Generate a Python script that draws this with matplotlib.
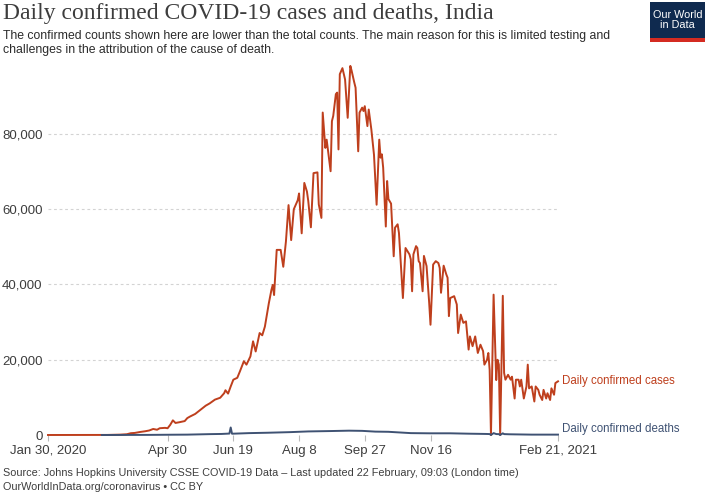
import matplotlib
matplotlib.use("Agg")
import matplotlib.pyplot as plt
import pandas as pd
from matplotlib.patches import Rectangle

plt.rcParams["font.family"] = ["Liberation Sans", "DejaVu Sans"]

# ---------------- data ----------------
case_dates = (
    ["2020-01-30", "2020-02-02", "2020-02-03", "2020-02-04", "2020-02-19", "2020-03-02", "2020-03-04",
     "2020-03-10", "2020-03-15", "2020-03-20", "2020-03-25", "2020-03-30"]
    + ["2020-04-02", "2020-04-05", "2020-04-09", "2020-04-13", "2020-04-16", "2020-04-19", "2020-04-22",
       "2020-04-24", "2020-04-28", "2020-04-30"]
    + ["2020-05-02", "2020-05-04", "2020-05-06", "2020-05-09", "2020-05-13", "2020-05-15", "2020-05-17",
       "2020-05-21", "2020-05-25", "2020-05-29"]
    + ["2020-06-01", "2020-06-05", "2020-06-09", "2020-06-12", "2020-06-13", "2020-06-15", "2020-06-17",
       "2020-06-19", "2020-06-22", "2020-06-24", "2020-06-27", "2020-06-29"]
    + ["2020-07-02", "2020-07-04", "2020-07-06", "2020-07-09", "2020-07-11", "2020-07-13", "2020-07-16",
       "2020-07-18", "2020-07-19", "2020-07-20", "2020-07-22", "2020-07-25", "2020-07-27", "2020-07-29",
       "2020-07-31"]
    + ["2020-08-02", "2020-08-04", "2020-08-07", "2020-08-08", "2020-08-10", "2020-08-12", "2020-08-14",
       "2020-08-15", "2020-08-17", "2020-08-19", "2020-08-22", "2020-08-23", "2020-08-25", "2020-08-26",
       "2020-08-28", "2020-08-29"]
    + ["2020-09-01", "2020-09-02", "2020-09-03", "2020-09-05", "2020-09-06", "2020-09-07", "2020-09-08",
       "2020-09-10", "2020-09-12", "2020-09-14", "2020-09-16", "2020-09-17", "2020-09-19", "2020-09-20",
       "2020-09-22", "2020-09-23", "2020-09-25", "2020-09-26", "2020-09-27", "2020-09-29", "2020-09-30"]
    + ["2020-10-02", "2020-10-04", "2020-10-06", "2020-10-08", "2020-10-09", "2020-10-10", "2020-10-11",
       "2020-10-13", "2020-10-14", "2020-10-15", "2020-10-17", "2020-10-19", "2020-10-20", "2020-10-22",
       "2020-10-23", "2020-10-26", "2020-10-28", "2020-10-31"]
    + ["2020-11-01", "2020-11-02", "2020-11-03", "2020-11-05", "2020-11-06", "2020-11-07", "2020-11-08",
       "2020-11-10", "2020-11-11", "2020-11-13", "2020-11-15", "2020-11-16", "2020-11-18", "2020-11-20",
       "2020-11-22", "2020-11-23", "2020-11-24", "2020-11-26", "2020-11-28", "2020-11-29", "2020-11-30"]
    + ["2020-12-01", "2020-12-04", "2020-12-06", "2020-12-07", "2020-12-09", "2020-12-11", "2020-12-13",
       "2020-12-15", "2020-12-16", "2020-12-18", "2020-12-20", "2020-12-22", "2020-12-24", "2020-12-26",
       "2020-12-27", "2020-12-29", "2020-12-30", "2020-12-31"]
    + ["2021-01-01", "2021-01-03", "2021-01-05", "2021-01-06", "2021-01-07", "2021-01-08", "2021-01-10",
       "2021-01-11", "2021-01-12", "2021-01-14", "2021-01-16", "2021-01-17", "2021-01-19", "2021-01-20",
       "2021-01-22", "2021-01-23", "2021-01-24", "2021-01-26", "2021-01-28", "2021-01-29", "2021-01-30"]
    + ["2021-02-01", "2021-02-03", "2021-02-04", "2021-02-06", "2021-02-07", "2021-02-09", "2021-02-10",
       "2021-02-12", "2021-02-13", "2021-02-15", "2021-02-16", "2021-02-18", "2021-02-19", "2021-02-21"]
)
case_values = (
    [1, 1, 1, 0, 0, 2, 22, 15, 20, 60, 100, 200]
    + [480, 550, 800, 1000, 1200, 1600, 1400, 1800, 1900, 1800]
    + [2700, 3900, 3200, 3400, 3700, 4500, 4900, 5600, 6700, 7800]
    + [8400, 9400, 9900, 11100, 11900, 11000, 12900, 14700, 15200, 16900, 19600, 18700]
    + [20900, 24900, 22200, 27100, 26500, 28800, 35000, 38600, 39900, 37200, 49200, 49200, 44700, 51400,
       61100]
    + [51800, 60000, 62400, 64200, 53600, 67000, 64700, 62200, 55200, 69600, 69800, 61300, 57700, 85700,
       76300, 78500]
    + [70100, 83400, 84800, 90600, 91000, 75900, 95900, 97500, 94500, 84300, 98100, 96800, 93700, 92300,
       75400, 85700, 87000, 86100, 87400, 82100, 86500]
    + [81200, 74500, 61200, 78500, 73700, 74600, 71000, 55400, 67500, 62700, 61500, 47500, 55100, 56000,
       53700, 36400, 49700, 48000]
    + [46700, 38200, 48000, 50200, 49700, 46200, 45700, 38200, 47600, 44900, 35100, 29300, 45300, 46200,
       45700, 44400, 37800, 45000, 42700, 41800, 31600]
    + [36400, 36900, 34700, 27100, 32000, 29800, 30200, 22700, 26200, 23600, 26200, 21800, 24000, 22300,
       18700, 20000, 21800, 17300]
    + [0, 37300, 14600, 20000, 18700, 0, 37000, 16500, 14700, 16000, 14700, 15500, 9700, 14700,
       14700, 12900, 14700, 9700, 12900, 18700, 12400]
    + [12900, 8900, 12900, 12000, 10700, 9300, 12000, 9700, 11100, 9300, 12400, 10700, 13800, 14264]
)

death_dates = [
    "2020-03-11", "2020-03-20", "2020-04-01", "2020-04-15", "2020-05-01", "2020-05-15", "2020-06-01",
    "2020-06-10", "2020-06-16", "2020-06-17", "2020-06-18", "2020-07-01", "2020-07-15", "2020-08-01",
    "2020-08-15", "2020-09-01", "2020-09-15", "2020-09-25", "2020-10-05", "2020-10-15", "2020-11-01",
    "2020-11-15", "2020-12-01", "2020-12-15", "2020-12-28", "2020-12-31", "2021-01-01", "2021-01-03",
    "2021-01-05", "2021-01-07", "2021-01-08", "2021-01-10", "2021-01-11", "2021-01-15", "2021-02-01",
    "2021-02-21",
]
death_values = [
    1, 3, 20, 30, 70, 100, 230,
    280, 380, 2000, 340, 500, 600, 760,
    950, 1050, 1150, 1100, 900, 850, 500,
    450, 450, 350, 280, 250, 0, 500,
    250, 230, 0, 450, 240, 190, 100,
    100,
]

y_ticks = [0, 20000, 40000, 60000, 80000]
y_tick_labels = ["0", "20,000", "40,000", "60,000", "80,000"]
x_tick_dates = ["2020-01-30", "2020-04-30", "2020-06-19", "2020-08-08", "2020-09-27", "2020-11-16", "2021-02-21"]
x_tick_labels = ["Jan 30, 2020", "Apr 30", "Jun 19", "Aug 8", "Sep 27", "Nov 16", "Feb 21, 2021"]

title = "Daily confirmed COVID-19 cases and deaths, India"
subtitle = ("The confirmed counts shown here are lower than the total counts. The main reason for this is limited testing and\n"
            "challenges in the attribution of the cause of death.")
source = "Source: Johns Hopkins University CSSE COVID-19 Data – Last updated 22 February, 09:03 (London time)"
footer2 = "OurWorldInData.org/coronavirus • CC BY"

# ---------------- styling ----------------
CASE_COLOR = "#BE3F1D"
DEATH_COLOR = "#3F5273"
W, H = 707, 492
fig = plt.figure(figsize=(W / 100, H / 100), dpi=100)
fig.patch.set_facecolor("white")

ax_left, ax_right, ax_bottom, ax_top = 48, 558, 435, 62.5
ax = fig.add_axes([ax_left / W, 1 - ax_bottom / H, (ax_right - ax_left) / W, (ax_bottom - ax_top) / H])
ax.set_facecolor("white")

cd = pd.to_datetime(case_dates)
dd = pd.to_datetime(death_dates)
ax.plot(cd, case_values, color=CASE_COLOR, lw=1.4, solid_joinstyle="round", zorder=3, clip_on=False)
ax.plot(dd, death_values, color=DEATH_COLOR, lw=1.4, solid_joinstyle="round", zorder=4, clip_on=False)

ax.set_xlim(pd.Timestamp("2020-01-30"), pd.Timestamp("2021-02-21"))
ax.set_ylim(0, 99000)

for s in ax.spines.values():
    s.set_visible(False)

ax.set_yticks(y_ticks)
ax.set_yticklabels(y_tick_labels)
ax.tick_params(axis="y", length=0, pad=4, labelsize=9.5, labelcolor="#3d3d3d")
for yv in y_ticks[1:]:
    ax.axhline(yv, color="#d3d3d3", lw=0.8, ls=(0, (2.5, 2.5)), zorder=1)

ax.set_xticks(pd.to_datetime(x_tick_dates))
ax.set_xticklabels(x_tick_labels)
ax.tick_params(axis="x", length=4, width=0.8, color="#bbbbbb", pad=3, labelsize=9.5, labelcolor="#3d3d3d")

# line end labels
ax.annotate("Daily confirmed cases", xy=(1.0, case_values[-1]), xycoords=("axes fraction", "data"),
            xytext=(3, 0), textcoords="offset points", va="center", ha="left",
            color=CASE_COLOR, fontsize=8.3, annotation_clip=False)
ax.annotate("Daily confirmed deaths", xy=(1.0, 1600), xycoords=("axes fraction", "data"),
            xytext=(3, 0), textcoords="offset points", va="center", ha="left",
            color=DEATH_COLOR, fontsize=8.3, annotation_clip=False)

# title / subtitle / footer
fig.text(3 / W, 1 - 3 / H, title, ha="left", va="top", fontsize=17,
         family="Liberation Serif", color="#3d3d3d")
fig.text(3 / W, 1 - 30 / H, subtitle, ha="left", va="top", fontsize=8.8,
         color="#2b2b2b", linespacing=1.2)
fig.text(3 / W, 1 - 473 / H, source, ha="left", va="center", fontsize=7.8, color="#3d3d3d")
fig.text(3 / W, 1 - 487 / H, footer2, ha="left", va="center", fontsize=7.8, color="#3d3d3d")

# OWID logo
lx0, ly0, lw_, lh_ = 650, 2, 55, 40
fig.patches.append(Rectangle((lx0 / W, 1 - (ly0 + lh_) / H), lw_ / W, lh_ / H,
                             transform=fig.transFigure, facecolor="#0f2a4f", edgecolor="none", zorder=5))
fig.patches.append(Rectangle((lx0 / W, 1 - (ly0 + lh_) / H), lw_ / W, 4 / H,
                             transform=fig.transFigure, facecolor="#d42b21", edgecolor="none", zorder=6))
fig.text((lx0 + lw_ / 2) / W, 1 - (ly0 + 18) / H, "Our World\nin Data", ha="center", va="center",
         fontsize=7.8, color="white", linespacing=1.0, zorder=7)

fig.savefig("out.png", dpi=100, facecolor="white")
